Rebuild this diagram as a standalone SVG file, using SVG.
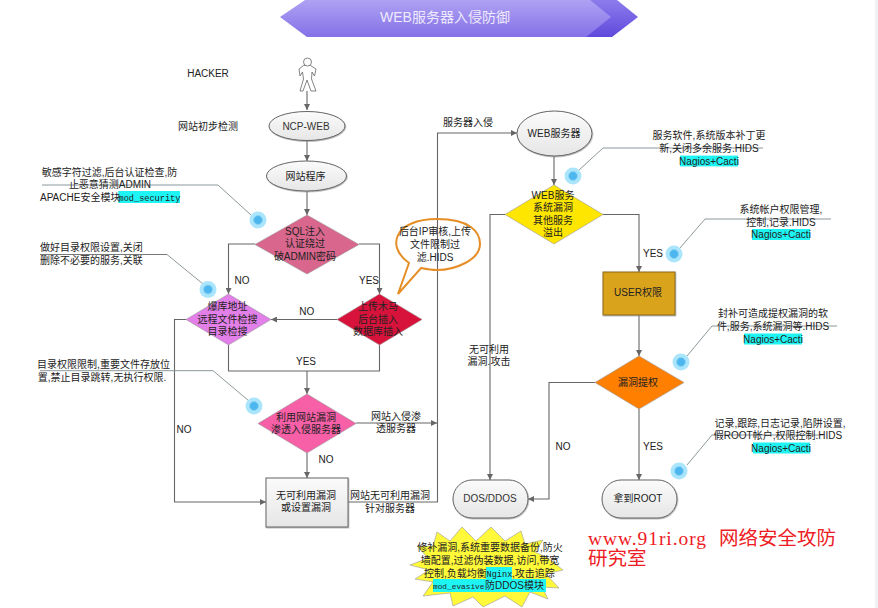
<svg xmlns="http://www.w3.org/2000/svg" xmlns:xlink="http://www.w3.org/1999/xlink" width="878" height="608" viewBox="0 0 878 608">
<style>
text{font-family:"Liberation Sans","Noto Sans CJK SC",sans-serif;font-size:10px;fill:#222;text-anchor:middle}
.l{text-anchor:start}
.lb{fill:#333;font-size:10px}
.m{font-family:"Liberation Mono","Noto Sans CJK SC",monospace;font-size:8.6px}
.c{stroke:#666;stroke-width:1.1;fill:none}
.a{marker-end:url(#arrow)}
.lead{stroke:#7f8c8f;stroke-width:.9;fill:none}
.blk{stroke:#555;stroke-width:.8;fill:none}
.hl{fill:#1ff4f4}
.dia{stroke:#999;stroke-width:.6}
.el{fill:url(#gw);stroke:#666;stroke-width:1}
.do{fill:#abe5fb}
.di{fill:#4db6ee;stroke:#8ad6f7;stroke-width:1}
.red{font-family:"Noto Sans CJK SC",sans-serif;font-size:19.5px;fill:#ee1c25;text-anchor:start}
</style>
<defs>
<marker id="arrow" markerUnits="userSpaceOnUse" markerWidth="7" markerHeight="6" refX="6" refY="3" orient="auto"><path d="M0 0L6 3L0 6Z" fill="#666"/></marker>
<linearGradient id="gw" x1="0" y1="0" x2="0" y2="1"><stop offset="0" stop-color="#fbfbfb"/><stop offset="1" stop-color="#e6e6e6"/></linearGradient>
<linearGradient id="gb" x1="0" y1="0" x2="0" y2="1"><stop offset="0" stop-color="#aea2f3"/><stop offset="1" stop-color="#8570e8"/></linearGradient>
<linearGradient id="gd" x1="0" y1="0" x2="0" y2="1"><stop offset="0" stop-color="#8d7cec"/><stop offset="1" stop-color="#5f49dc"/></linearGradient>
<filter id="sh" x="-10%" y="-10%" width="120%" height="125%"><feDropShadow dx="0.6" dy="0.8" stdDeviation="0.6" flood-color="#888" flood-opacity=".7"/></filter>
</defs>
<rect width="878" height="608" fill="#fff"/>
<rect x="875" width="3" height="608" fill="#eef2f5"/>

<g id="banner">
<polygon points="590,0 617,0 638,17 612,37 585,37" fill="url(#gd)"/>
<polygon points="305,0 590,0 611,17 586,37 307,37 280,17" fill="url(#gb)"/>
<text x="445" y="22" style="font-size:14px;fill:#eeeafc">WEB服务器入侵防御</text>
</g>

<g id="connectors">
<path class="c a" d="M307 91V110"/>
<path class="c a" d="M307 140V161"/>
<path class="c a" d="M307 191V215"/>
<path class="c a" d="M255 244H228.500V294"/>
<path class="c a" d="M359 244H379.500V294"/>
<path class="c a" d="M337 319.500H271"/>
<path class="c" d="M228.500 345V371H379.500V345"/>
<path class="c a" d="M307 371V394"/>
<path class="c a" d="M186 319.500H174.500V502H266"/>
<path class="c a" d="M307 453V478"/>
<path class="c a" d="M356 423H437"/>
<path class="c a" d="M348 502H437.500V133H517"/>
<path class="c a" d="M554 156V185"/>
<path class="c a" d="M603 214.500H639V272"/>
<path class="c a" d="M639 315V356"/>
<path class="c a" d="M639 409V480"/>
<path class="c a" d="M595 382.500H549V499H528"/>
<path class="c a" d="M505 214.500H490V480"/>
<path class="lead" d="M42 185H218L251 215"/>
<path class="blk" d="M40 254.500H167"/><path class="lead" d="M167 254.500L203 284"/>
<path class="lead" d="M40 370.700H213L249 401"/>
<path class="lead" d="M578 171L603 148H763"/>
<path class="lead" d="M680 248L705 219H831"/>
<path class="lead" d="M687 356L712 326H837"/>
<path class="lead" d="M687 465L712 435H823"/>
</g>

<g id="hacker">
<path d="M303.500 65.500 L299 69 L300 76 L302.500 72 L303.500 79 L300 91 H303 L307 80 L311 91 H316 L311.500 79 L312 72 L314.500 76 L316 69 L310.500 65.500Z" fill="#fff" stroke="#666" stroke-width=".8"/>
<circle cx="307.500" cy="62" r="4" fill="#fff" stroke="#666" stroke-width=".8"/>
<text x="208" y="77">HACKER</text>
</g>
<g id="label-check"><text x="208" y="129.500">网站初步检测</text></g>
<g id="ncp-web"><ellipse class="el" cx="307" cy="126" rx="38" ry="14.500" filter="url(#sh)"/><text class="lb" x="306" y="129.500">NCP-WEB</text></g>
<g id="site-app"><ellipse class="el" cx="306.500" cy="176" rx="40" ry="15" filter="url(#sh)"/><text x="305.500" y="179.500">网站程序</text></g>
<g id="sql"><polygon class="dia" points="307,215 359,244.500 307,274 255,244.500" fill="#d9668c"/>
<text x="305" y="234.500">SQL注入</text><text x="305" y="247">认证绕过</text><text x="305" y="259.500">破ADMIN密码</text></g>
<g id="scan"><polygon class="dia" points="228.500,294 271,319.500 228.500,345 186,319.500" fill="#e27fe8"/>
<text x="227.500" y="310">爆库地址</text><text x="227.500" y="322.500">远程文件检搜</text><text x="227.500" y="335">目录检搜</text></g>
<g id="upload"><polygon class="dia" points="379.500,294 422,319.500 379.500,345 337,319.500" fill="#d8133b"/>
<text x="378" y="310">上传木马</text><text x="378" y="322.500">后台插入</text><text x="378" y="335">数据库插入</text></g>
<g id="exploit"><polygon class="dia" points="307,394 356,423.500 307,453 258,423.500" fill="#f75fa7"/>
<text x="306" y="420.500">利用网站漏洞</text><text x="306" y="432.500">渗透入侵服务器</text></g>
<g id="no-vuln"><rect x="266" y="478" width="82" height="49" fill="url(#gw)" stroke="#666" filter="url(#sh)"/>
<text x="306" y="499">无可利用漏洞</text><text x="306" y="511">或设置漏洞</text></g>
<g id="web-server"><ellipse class="el" cx="554.500" cy="133.500" rx="37.500" ry="22.500" filter="url(#sh)"/><text x="554" y="137">WEB服务器</text></g>
<g id="web-vuln"><polygon class="dia" points="554,185 603,214.500 554,244 505,214.500" fill="#ffe600"/>
<text x="553" y="198.500">WEB服务</text><text x="553" y="211">系统漏洞</text><text x="553" y="223.500">其他服务</text><text x="553" y="236">溢出</text></g>
<g id="user"><rect x="603" y="272" width="72" height="43" fill="#daa31f" stroke="#8a6a14" filter="url(#sh)"/><text x="638" y="296">USER权限</text></g>
<g id="privesc"><polygon class="dia" points="639,356 684,382.500 639,409 595,382.500" fill="#ff7f00"/><text x="638" y="385.500">漏洞提权</text></g>
<g id="root"><rect x="602" y="480" width="75" height="38" rx="19" fill="url(#gw)" stroke="#666" filter="url(#sh)"/><text x="638" y="502">拿到ROOT</text></g>
<g id="dos"><rect x="453" y="480" width="75" height="38" rx="19" fill="url(#gw)" stroke="#666" filter="url(#sh)"/><text class="lb" x="490" y="502">DOS/DDOS</text></g>

<g id="callout"><path d="M409 263 C385 246 395 219 437 219 C470 219 480 232 480 244 C480 260 455 270 437 270 C431 270 426 269 421 268 L398 294Z" fill="none" stroke="#e58e26" stroke-width="2"/>
<text x="435" y="234.500">后台IP审核,上传</text><text x="435" y="247.500">文件限制过</text><text x="435" y="260.500">滤.HIDS</text></g>

<g id="labels">
<text x="242" y="283.500">NO</text><text x="369" y="283.500">YES</text>
<text x="306.700" y="314.500">NO</text><text x="306" y="364.500">YES</text>
<text x="184" y="432.500">NO</text><text x="326" y="462.500">NO</text>
<text x="396" y="419.500">网站入侵渗</text><text x="396" y="432">透服务器</text>
<text x="390" y="498.500">网站无可利用漏洞</text><text x="390" y="511.500">针对服务器</text>
<text class="l" x="443" y="126">服务器入侵</text>
<text x="489" y="352.500">无可利用</text><text x="489" y="364.500">漏洞.攻击</text>
<text x="653" y="256.500">YES</text><text x="563" y="450">NO</text><text x="653" y="450">YES</text>
</g>

<g id="note-1"><rect class="hl" x="118.300" y="191" width="61.700" height="12"/>
<text x="109.500" y="176">敏感字符过滤,后台认证检查,防</text><text x="110" y="188">止恶意猜测ADMIN</text>
<text class="l" x="40" y="201">APACHE安全模块<tspan class="m" x="118.500">mod_security</tspan></text></g>
<g id="note-2"><text class="l" x="40" y="251">做好目录权限设置,关闭</text><text class="l" x="40" y="263.500">删除不必要的服务,关联</text></g>
<g id="note-3"><text x="103.500" y="367.500">目录权限限制,重要文件存放位</text><text x="102" y="380.500">置,禁止目录跳转,无执行权限.</text></g>
<g id="note-4"><rect class="hl" x="680" y="155.600" width="58" height="10.800"/>
<text x="709" y="138.500">服务软件,系统版本补丁更</text><text x="709" y="151.500">新,关闭多余服务.HIDS</text><text x="709" y="164.500">Nagios+Cacti</text></g>
<g id="note-5"><rect class="hl" x="752" y="229" width="58" height="11"/>
<text x="781" y="212.500">系统帐户权限管理,</text><text x="781" y="225.500">控制,记录.HIDS</text><text x="781" y="238">Nagios+Cacti</text></g>
<g id="note-6"><rect class="hl" x="744" y="333.500" width="58" height="11"/>
<text x="773" y="317">封补可造成提权漏洞的软</text><text x="773" y="330">件,服务,系统漏洞等.HIDS</text><text x="773" y="342.500">Nagios+Cacti</text></g>
<g id="note-7"><rect class="hl" x="753" y="442.500" width="57" height="11"/>
<text x="780" y="426.500">记录,跟踪,日志记录,陷阱设置,</text><text x="778" y="439">假ROOT帐户,权限控制.HIDS</text><text x="781" y="451.500">Nagios+Cacti</text></g>

<g id="dots">
<circle class="do" cx="258" cy="220" r="8.500"/><circle class="di" cx="258" cy="220" r="4.500"/>
<circle class="do" cx="208" cy="289.500" r="8.500"/><circle class="di" cx="208" cy="289.500" r="4.500"/>
<circle class="do" cx="254" cy="406" r="8.500"/><circle class="di" cx="254" cy="406" r="4.500"/>
<circle class="do" cx="573" cy="176" r="8.500"/><circle class="di" cx="573" cy="176" r="4.500"/>
<circle class="do" cx="674" cy="254" r="8.500"/><circle class="di" cx="674" cy="254" r="4.500"/>
<circle class="do" cx="681" cy="362" r="8.500"/><circle class="di" cx="681" cy="362" r="4.500"/>
<circle class="do" cx="679" cy="471" r="8.500"/><circle class="di" cx="679" cy="471" r="4.500"/>
</g>

<g id="ddos-defense">
<polygon points="462,527 476,541 491,527 505,541 521,531 525,544 543,540 535,552 548,558 563,570 546,574 559,588 542,587 548,599 530,592 522,607 505,596 483,607 473,597 453,606 450,593 423,596 433,582 415,579 429,570 410,565 428,558 417,546 433,546 437,532 450,541" fill="#fff93a" stroke="#999" stroke-width=".6"/>
<rect class="hl" x="486" y="567" width="26" height="13"/><rect class="hl" x="433" y="579" width="113" height="13"/>
<text x="490" y="551">修补漏洞,系统重要数据备份,防火</text>
<text x="490" y="563.500">墙配置,过滤伪装数据,访问,带宽</text>
<text class="l" x="424" y="576.500">控制,负载均衡<tspan class="m" x="486.500">Nginx</tspan><tspan x="512">,攻击追踪</tspan></text>
<text class="l" x="433" y="588.500"><tspan class="m" style="font-size:7.8px">mod_evasive</tspan><tspan x="485">防DDOS模块</tspan></text>
</g>

<g id="watermark">
<text class="red" x="588" y="544.500"><tspan style="font-family:'Liberation Serif',serif;font-size:19.500px" textLength="118" lengthAdjust="spacing">www.91ri.org</tspan><tspan x="719">网络安全攻防</tspan></text>
<text class="red" x="588" y="565">研究室</text>
</g>
</svg>
